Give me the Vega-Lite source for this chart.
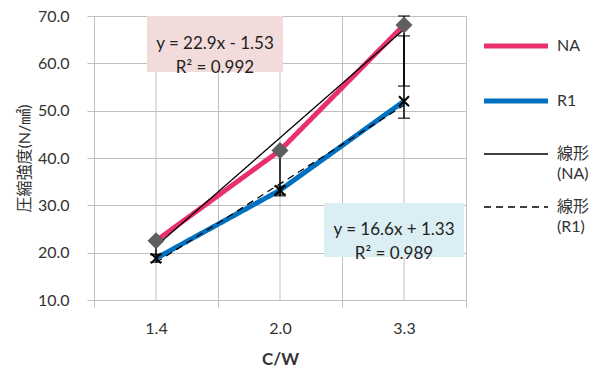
{
  "$schema": "https://vega.github.io/schema/vega-lite/v6.json",
  "width": 372,
  "height": 284,
  "autosize": {"type": "none"},
  "padding": {"left": 94, "top": 16, "right": 123, "bottom": 67},
  "background": "white",
  "config": {
    "font": "Lato, Noto Sans CJK JP",
    "view": {"stroke": "#bfbfbf", "strokeWidth": 1},
    "axis": {
      "labelFont": "Lato, Noto Sans CJK JP",
      "titleFont": "Lato, Noto Sans CJK JP",
      "labelColor": "#333333",
      "titleColor": "#333333",
      "labelFontSize": 16,
      "gridColor": "#bfbfbf",
      "gridWidth": 1,
      "domainColor": "#bfbfbf",
      "tickColor": "#bfbfbf",
      "tickSize": 7
    },
    "legend": {
      "labelFont": "Lato, Noto Sans CJK JP",
      "labelFontSize": 16,
      "labelColor": "#333333"
    }
  },
  "datasets": {
    "cats": [{"cw": "1.4"}, {"cw": "2.0"}, {"cw": "3.3"}],
    "lines": [
      {"cw": "1.4", "series": "NA", "value": 22.5},
      {"cw": "2.0", "series": "NA", "value": 41.6},
      {"cw": "3.3", "series": "NA", "value": 68.1},
      {"cw": "1.4", "series": "R1", "value": 18.8},
      {"cw": "2.0", "series": "R1", "value": 33.2},
      {"cw": "3.3", "series": "R1", "value": 52.0},
      {"cw": "1.4", "series": "線形 (NA)", "value": 21.37},
      {"cw": "2.0", "series": "線形 (NA)", "value": 44.27},
      {"cw": "3.3", "series": "線形 (NA)", "value": 67.17},
      {"cw": "1.4", "series": "線形 (R1)", "value": 17.93},
      {"cw": "2.0", "series": "線形 (R1)", "value": 34.53},
      {"cw": "3.3", "series": "線形 (R1)", "value": 51.13}
    ],
    "errors": [
      {"cw": "1.4", "series": "NA", "lo": 19.6, "hi": 22.5},
      {"cw": "2.0", "series": "NA", "lo": 32.0, "hi": 41.6},
      {"cw": "3.3", "series": "NA", "lo": 55.2, "hi": 70.0},
      {"cw": "1.4", "series": "R1", "lo": 18.0, "hi": 19.6},
      {"cw": "2.0", "series": "R1", "lo": 32.3, "hi": 34.0},
      {"cw": "3.3", "series": "R1", "lo": 48.4, "hi": 65.8}
    ],
    "notes": [
      {"cw": "2.0", "series": "NA", "value": 64.1, "text": "y = 22.9x - 1.53\nR² = 0.992"},
      {"cw": "3.3", "series": "R1", "value": 24.8, "text": "y = 16.6x + 1.33\nR² = 0.989"}
    ]
  },
  "layer": [
    {
      "data": {"name": "cats"},
      "mark": {"type": "rule", "color": "#bfbfbf", "strokeWidth": 1},
      "encoding": {
        "x": {
          "field": "cw", "type": "ordinal",
          "scale": {"type": "band", "domain": ["1.4", "2.0", "3.3"], "paddingInner": 0, "paddingOuter": 0},
          "axis": {
            "title": "C/W",
            "tickBand": "extent",
            "grid": true,
            "labelAngle": 0,
            "labelPadding": 13,
            "titleFontWeight": "bold",
            "titleFontSize": 17,
            "titlePadding": 15
          }
        }
      }
    },
    {
      "data": {"name": "notes"},
      "transform": [{"filter": "datum.series == 'NA'"}],
      "mark": {"type": "point", "filled": true, "opacity": 1, "color": "#f2dcdb", "shape": "M-1,-0.412H1V0.412H-1Z", "size": 18496, "xOffset": -65},
      "encoding": {
        "x": {"field": "cw", "type": "ordinal"},
        "y": {"field": "value", "type": "quantitative",
          "scale": {"domain": [10, 70], "nice": false, "zero": false},
          "axis": {"values": [10, 20, 30, 40, 50, 60, 70], "format": ".1f", "title": "圧縮強度(N/㎟)", "grid": true, "labelPadding": 18, "titleFontSize": 16, "titleFontWeight": "normal", "titlePadding": 5}}
      }
    },
    {
      "data": {"name": "notes"},
      "transform": [{"filter": "datum.series == 'R1'"}],
      "mark": {"type": "point", "filled": true, "opacity": 1, "color": "#dbeef4", "shape": "M-1,-0.386H1V0.386H-1Z", "size": 19600, "xOffset": -10},
      "encoding": {
        "x": {"field": "cw", "type": "ordinal"},
        "y": {"field": "value", "type": "quantitative"}
      }
    },
    {
      "data": {"name": "lines"},
      "mark": {"type": "line", "strokeCap": "butt", "strokeJoin": "round"},
      "encoding": {
        "x": {"field": "cw", "type": "ordinal"},
        "y": {"field": "value", "type": "quantitative"},
        "color": {
          "field": "series", "type": "nominal",
          "scale": {"domain": ["NA", "R1", "線形 (NA)", "線形 (R1)"], "range": ["#e8306e", "#0070c0", "#000000", "#000000"]},
          "legend": {
            "title": null, "orient": "none", "legendX": 414, "legendY": 22,
            "symbolType": "stroke", "symbolSize": 4096, "labelOffset": 33, "rowPadding": 17,
            "padding": 0,
            "labelBaseline": "middle",
            "labelExpr": "datum.label == 'NA' || datum.label == 'R1' ? [datum.label, ' '] : ['線形', slice(datum.label, 3)]",
            "encode": {
              "symbols": {"update": {"strokeWidth": {"signal": "datum.value == 'NA' || datum.value == 'R1' ? 5 : 1.3"}}},
              "labels": {"update": {"lineHeight": {"value": 20}}}
            }
          }
        },
        "strokeDash": {
          "field": "series", "type": "nominal",
          "scale": {"domain": ["NA", "R1", "線形 (NA)", "線形 (R1)"], "range": [[1, 0], [1, 0], [1, 0], [7, 5]]},
          "legend": {
            "title": null, "orient": "none", "legendX": 414, "legendY": 22,
            "symbolType": "stroke", "symbolSize": 4096, "labelOffset": 33, "rowPadding": 17,
            "padding": 0,
            "labelBaseline": "middle",
            "labelExpr": "datum.label == 'NA' || datum.label == 'R1' ? [datum.label, ' '] : ['線形', slice(datum.label, 3)]",
            "encode": {
              "symbols": {"update": {"strokeWidth": {"signal": "datum.value == 'NA' || datum.value == 'R1' ? 5 : 1.3"}}},
              "labels": {"update": {"lineHeight": {"value": 20}}}
            }
          }
        },
        "strokeWidth": {
          "condition": {"test": "datum.series == 'NA' || datum.series == 'R1'", "value": 5},
          "value": 1.3
        }
      }
    },
    {
      "data": {"name": "errors"},
      "mark": {"type": "rule", "color": "#000000", "strokeWidth": 1.5},
      "encoding": {
        "x": {"field": "cw", "type": "ordinal"},
        "y": {"field": "lo", "type": "quantitative"},
        "y2": {"field": "hi"}
      }
    },
    {
      "data": {"name": "errors"},
      "mark": {"type": "tick", "orient": "horizontal", "color": "#000000", "size": 12, "thickness": 1.5},
      "encoding": {
        "x": {"field": "cw", "type": "ordinal"},
        "y": {"field": "lo", "type": "quantitative"}
      }
    },
    {
      "data": {"name": "errors"},
      "mark": {"type": "tick", "orient": "horizontal", "color": "#000000", "size": 12, "thickness": 1.5},
      "encoding": {
        "x": {"field": "cw", "type": "ordinal"},
        "y": {"field": "hi", "type": "quantitative"}
      }
    },
    {
      "data": {"name": "lines"},
      "transform": [{"filter": "datum.series == 'NA'"}],
      "mark": {"type": "point", "shape": "diamond", "filled": true, "opacity": 1, "color": "#5f5f5f", "size": 290},
      "encoding": {
        "x": {"field": "cw", "type": "ordinal"},
        "y": {"field": "value", "type": "quantitative"}
      }
    },
    {
      "data": {"name": "lines"},
      "transform": [{"filter": "datum.series == 'R1'"}],
      "mark": {"type": "point", "shape": "M-1,-1L1,1M-1,1L1,-1", "filled": false, "opacity": 1, "color": "#000000", "strokeWidth": 2, "size": 100},
      "encoding": {
        "x": {"field": "cw", "type": "ordinal"},
        "y": {"field": "value", "type": "quantitative"}
      }
    },
    {
      "data": {"name": "notes"},
      "transform": [{"filter": "datum.series == 'NA'"}],
      "mark": {"type": "text", "fontSize": 17, "color": "#222222", "lineBreak": "\n", "lineHeight": 24, "align": "center", "baseline": "middle", "xOffset": -65},
      "encoding": {
        "x": {"field": "cw", "type": "ordinal"},
        "y": {"field": "value", "type": "quantitative"},
        "text": {"field": "text"}
      }
    },
    {
      "data": {"name": "notes"},
      "transform": [{"filter": "datum.series == 'R1'"}],
      "mark": {"type": "text", "fontSize": 17, "color": "#222222", "lineBreak": "\n", "lineHeight": 24, "align": "center", "baseline": "middle", "xOffset": -10},
      "encoding": {
        "x": {"field": "cw", "type": "ordinal"},
        "y": {"field": "value", "type": "quantitative"},
        "text": {"field": "text"}
      }
    }
  ]
}
